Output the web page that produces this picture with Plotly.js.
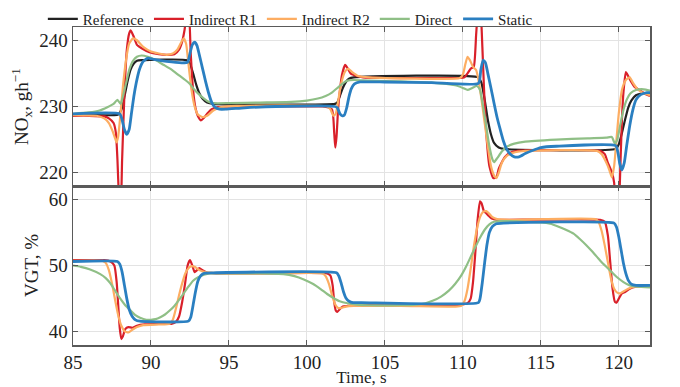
<!DOCTYPE html>
<html>
<head>
<meta charset="utf-8">
<script src="https://cdn.plot.ly/plotly-3.0.1.min.js"></script>
<style>html,body{margin:0;padding:0;background:#fff}#chart{width:680px;height:387px}</style>
</head>
<body>
<div id="chart"></div>
<script>
// ---------- NOx (top panel) ----------
const t_nox_ref = [85,87.9,88.1,88.3,88.5,88.7,88.9,89.1,89.4,92.3,92.5,92.7,92.9,93.1,93.3,93.6,94.0,101.8,101.95,102.1,102.3,102.5,102.7,103.0,111.0,111.2,111.4,111.6,111.8,112.0,112.3,112.6,119.8,120.0,120.2,120.4,120.6,120.8,121.1,121.5,122];
const nox_ref = [228.8,228.8,229.5,231.5,233.8,235.6,236.5,236.9,237.0,237.0,236.5,235.0,233.3,232.0,231.2,230.6,230.4,230.4,230.6,231.5,232.8,233.7,234.2,234.4,234.4,233.5,231.0,228.0,225.8,224.5,223.8,223.6,223.6,224.3,226.0,228.0,229.8,230.9,231.7,232.0,232.0];

const t_nox_r1 = [85,86.0,87.0,87.3,87.6,87.75,87.85,87.95,88.05,88.15,88.3,88.45,88.6,88.7,88.9,89.1,89.4,89.9,90.5,91.0,91.5,91.8,92.0,92.15,92.3,92.42,92.55,92.7,92.85,93.0,93.2,93.4,93.6,93.9,94.3,95,97,99,101.0,101.6,101.75,101.82,101.9,102.0,102.12,102.25,102.45,102.6,102.8,103.2,103.6,105,107,109.8,110.1,110.3,110.5,110.7,110.85,110.95,111.05,111.15,111.25,111.35,111.5,111.7,111.95,112.15,112.3,112.5,112.7,113.0,113.5,115,118.8,119.1,119.3,119.55,119.7,119.8,119.9,120.0,120.1,120.2,120.3,120.45,120.6,120.8,121.0,121.3,121.7,122];
const nox_r1 = [228.6,228.6,228.5,228.2,227.5,226,222,216,213,222,232,238.5,241,241.5,240.5,239.3,238.8,238.2,237.9,237.8,237.9,238.6,239.8,241.5,244,244.5,238,232.5,229.8,228.6,227.9,228.3,228.9,229.6,229.9,230.0,230.0,230.0,230.0,229.6,226,223.8,225.5,229.6,232.5,234.8,236.3,235.8,235.0,234.6,234.4,234.3,234.3,234.3,234.4,235.0,235.7,236.0,240.8,244,245,244,239,233,226,221,219.2,219.3,220.6,221.6,222.4,223.0,223.3,223.4,223.3,222.8,221.5,220.1,218.5,214,212,214,221,228,232.2,235.2,234.6,233.7,233.0,232.5,231.9,231.6];

const t_nox_r2 = [85,86.5,87.0,87.3,87.5,87.7,87.8,87.9,88.05,88.2,88.4,88.6,88.85,89.1,89.5,90.0,90.5,91.0,91.4,91.7,91.9,92.1,92.25,92.4,92.6,92.8,93.0,93.3,93.6,94.0,94.5,95.5,101.3,101.5,101.7,101.85,102.0,102.2,102.45,102.65,102.9,103.3,104,109.8,110.0,110.15,110.3,110.45,110.65,110.85,111.0,111.2,111.4,111.6,111.8,112.0,112.15,112.3,112.5,112.8,113.2,114,118.6,118.9,119.1,119.3,119.45,119.55,119.7,119.85,120.0,120.2,120.45,120.7,120.9,121.2,121.6,122];
const nox_r2 = [228.7,228.6,228.2,227.5,226.5,225.2,224.6,225.5,229,233,237,239.5,240.3,240.0,239.0,238.3,238.0,237.8,238.0,238.6,239.5,240.3,239.5,236.5,232.5,230.0,228.8,228.4,228.6,229.4,229.9,230.1,230.0,229.6,228.6,228.9,230.8,233.5,235.3,235.7,235.2,234.6,234.4,234.3,234.8,236.3,237.5,237.0,236.0,235.5,234,231,227.5,224,221,219.6,219.2,220.0,221.5,222.5,223.0,223.3,223.3,222.8,222.0,221.0,220,219.3,221,225,229,232.5,234.0,234.4,233.6,232.6,232.0,231.7];

const t_nox_dir = [85,86,86.7,87.2,87.6,87.85,88.05,88.2,88.4,88.6,88.85,89.1,89.4,89.8,90.3,90.8,91.3,91.8,92.2,92.5,92.8,93.1,93.4,93.7,94.0,95,97,99,100,100.7,101.2,101.6,102.0,102.3,102.6,103.0,104,106,108,109.5,110.0,110.3,110.6,110.9,111.1,111.3,111.5,111.7,111.9,112.0,112.2,112.5,112.8,113.3,114,116,118,119.2,119.55,119.75,119.9,120.1,120.3,120.5,120.75,121.1,121.6,122];
const nox_dir = [228.9,229.1,229.4,229.9,230.4,231.0,230.4,231.5,233.5,235.5,236.9,237.5,237.7,237.5,237.0,236.3,235.6,234.7,234.0,233.4,232.5,231.8,231.2,230.7,230.5,230.5,230.6,230.7,230.9,231.2,231.6,232.1,232.9,233.5,233.9,234.0,233.9,233.8,233.6,233.2,232.8,232.5,232.8,233.1,232.5,230,227,224,222,221.6,222.2,223.2,223.9,224.4,224.7,225.0,225.2,225.3,225.4,224.4,225.0,227.3,229.5,231.0,232.0,232.5,232.6,232.4];

const t_nox_sta = [85,88.0,88.15,88.3,88.45,88.6,88.75,88.9,89.05,89.25,89.5,89.8,90.2,91,92.0,92.35,92.5,92.65,92.8,92.95,93.1,93.3,93.5,93.7,93.9,94.1,94.4,94.8,96,98,101.8,101.95,102.1,102.25,102.4,102.55,102.7,102.85,103.05,103.4,105,108,111.0,111.15,111.3,111.45,111.6,111.8,112.0,112.2,112.4,112.6,112.8,113.0,113.3,113.6,114.0,114.5,115.0,116,119.8,119.95,120.05,120.2,120.35,120.5,120.7,120.9,121.1,121.4,121.8,122];
const nox_sta = [228.9,228.9,228.0,226.5,225.8,226.5,229,231.5,233.5,235.5,236.8,237.3,237.1,236.8,236.6,236.7,238.0,239.3,239.7,239.2,237.8,235.8,233.8,232.0,230.6,229.9,229.6,229.6,229.8,230.0,230.0,229.8,229.0,228.6,228.7,229.8,231.5,232.7,233.4,233.7,233.7,233.6,233.5,235.5,237.0,236.6,235.0,232.8,230.5,228.3,226.5,224.8,223.6,222.9,222.4,222.4,222.9,223.4,223.8,224.0,224.1,223,221.5,220.4,221.5,224,227.1,229.5,231.0,231.8,232.1,232.1];

// ---------- VGT (bottom panel) ----------
const t_vgt_r1 = [85,87.0,87.4,87.65,87.8,87.9,88.0,88.1,88.2,88.35,88.55,88.8,89.1,89.6,90.5,91.3,91.6,91.8,92.0,92.2,92.35,92.5,92.65,92.8,92.95,93.1,93.3,93.6,94.2,97,101.3,101.5,101.65,101.75,101.85,101.95,102.1,102.3,102.6,103,106,109.8,110.3,110.5,110.65,110.8,110.95,111.1,111.2,111.35,111.5,111.65,111.85,112.2,113,118.8,119.1,119.3,119.45,119.6,119.75,119.85,120.0,120.2,120.4,120.7,121.1,121.6,122];
const vgt_r1 = [50.8,50.8,50.6,50.0,47.5,44,40.5,38.9,39.3,40.4,40.7,40.6,40.9,41.1,41.2,41.2,41.5,42.3,44.5,47.5,50.0,50.8,50.0,49.0,49.3,49.6,49.3,48.9,48.8,48.8,48.8,48.5,47,44.5,43.2,43.0,43.4,43.8,43.9,44.0,44.0,44.1,44.3,45.0,47.5,52,57,59.7,59.4,58.2,57.9,57.5,57.1,56.9,56.9,56.9,56.6,54.5,50.5,46.5,44.5,44.4,45.0,45.8,46.0,46.5,46.8,46.9,46.9];

const t_vgt_r2 = [85,86.9,87.1,87.3,87.5,87.7,87.9,88.1,88.3,88.55,88.8,89.1,89.5,90.5,91.2,91.4,91.6,91.8,92.0,92.2,92.4,92.6,92.8,93.1,93.5,94,97,101.0,101.2,101.4,101.6,101.8,102.0,102.2,102.5,103,106,109.5,109.9,110.1,110.3,110.5,110.7,110.9,111.1,111.3,111.5,111.7,111.9,112.2,113,118.5,118.7,118.9,119.1,119.3,119.5,119.7,119.9,120.1,120.3,120.6,121.0,121.5,122];
const vgt_r2 = [50.7,50.7,50.4,49.3,47.3,44.8,42.5,40.9,40.1,39.9,40.3,40.7,41.0,41.1,41.2,41.8,43.5,45.5,47.3,48.8,49.6,49.9,49.8,49.3,49.0,48.9,48.8,48.8,48.4,47.3,45.6,44.2,43.6,43.6,43.8,43.9,43.9,43.8,43.9,44.6,46.5,49.5,52.8,55.5,57.3,58.1,58.2,57.8,57.3,57.0,56.9,57.0,56.6,55.2,53.0,50.5,48.0,46.5,45.9,45.8,46.1,46.5,46.8,46.9,46.9];

const t_vgt_dir = [85,85.5,86.1,86.75,87.1,87.4,87.7,88.0,88.35,88.7,89.0,89.3,89.7,90.0,90.3,90.6,90.9,91.2,91.5,91.8,92.1,92.4,92.7,93.0,93.4,93.8,95,97,98.5,99.2,99.8,100.4,100.9,101.3,101.7,102.1,102.6,103.2,104,106,107,107.6,108.1,108.6,109.1,109.5,109.9,110.2,110.5,110.8,111.1,111.4,111.7,112.0,112.4,113,114,115,115.6,116.1,116.6,117.1,117.5,117.9,118.3,118.6,118.9,119.2,119.55,119.85,120.3,120.7,121.2,122];
const vgt_dir = [50.0,49.8,49.4,48.7,48.1,47.3,46.2,45.1,44.0,43.2,42.5,42.1,41.8,41.8,41.9,42.2,42.6,43.2,43.9,44.8,45.8,46.8,47.7,48.2,48.6,48.8,48.8,48.8,48.7,48.4,47.9,47.2,46.4,45.7,45.1,44.6,44.3,44.1,44.0,44.0,44.1,44.3,44.7,45.3,46.2,47.2,48.5,49.8,51.3,52.8,54.2,55.4,56.2,56.6,56.7,56.7,56.6,56.5,56.3,55.9,55.4,54.8,54.0,53.1,52.1,51.3,50.5,49.8,49.0,48.3,47.5,47.0,46.8,46.7];

const t_vgt_sta = [85,87.85,88.0,88.15,88.3,88.45,88.6,88.8,89.0,89.3,92.4,92.55,92.7,92.85,93.0,93.2,93.45,94,101.9,102.05,102.2,102.35,102.5,102.7,102.95,103.5,111.0,111.1,111.25,111.4,111.55,111.7,111.9,112.15,112.6,119.7,119.85,120.0,120.15,120.3,120.45,120.6,120.8,121.1,122];
const vgt_sta = [50.6,50.6,50.2,49.0,47.0,45.0,43.4,42.3,41.8,41.6,41.6,42.2,44.0,46.0,47.6,48.5,48.85,48.9,48.9,48.4,47.3,46.0,45.1,44.6,44.4,44.4,44.4,45.0,47.5,50.5,53.2,55.0,55.9,56.3,56.4,56.4,55.8,54.3,52.3,50.3,48.8,47.8,47.2,47.0,47.0];

const names = ['Reference','Indirect R1','Indirect R2','Direct','Static'];
const colors = ['#222222','#d9202a','#fdad62','#8fbf86','#2a7fc1'];
const widths = [2.2,2.2,2.2,2.2,2.8];

const topT = [t_nox_ref,t_nox_r1,t_nox_r2,t_nox_dir,t_nox_sta];
const topY = [nox_ref,nox_r1,nox_r2,nox_dir,nox_sta];
const botT = [null,t_vgt_r1,t_vgt_r2,t_vgt_dir,t_vgt_sta];
const botY = [null,vgt_r1,vgt_r2,vgt_dir,vgt_sta];

const traces = [];
for (let i = 0; i < 5; i++) {
  traces.push({x: topT[i], y: topY[i], type:'scatter', mode:'lines', name:names[i],
    line:{color:colors[i], width:widths[i], shape:'spline', smoothing:0.5},
    xaxis:'x', yaxis:'y', legendgroup:names[i]});
}
for (let i = 1; i < 5; i++) {
  traces.push({x: botT[i], y: botY[i], type:'scatter', mode:'lines', name:names[i],
    line:{color:colors[i], width:widths[i], shape:'spline', smoothing:0.5},
    xaxis:'x2', yaxis:'y2', legendgroup:names[i], showlegend:false});
}

const F = '"Liberation Serif"';
const axCommon = {showline:true, linecolor:'#5a5a5a', linewidth:1.5, mirror:'ticks',
  ticks:'inside', ticklen:5, tickcolor:'#5a5a5a', tickwidth:1,
  showgrid:true, gridcolor:'#e3e3e3', gridwidth:1, zeroline:false,
  tickfont:{family:F, size:19, color:'#222'}};

const layout = {
  width:680, height:387,
  margin:{l:73, r:30, t:27, b:42, autoexpand:false},
  paper_bgcolor:'#fff', plot_bgcolor:'#fff',
  font:{family:F, color:'#222'},
  showlegend:true,
  legend:{orientation:'h', xref:'container', yref:'container', x:0.063, xanchor:'left', y:0.993, yanchor:'top',
    font:{family:F, size:15, color:'#222'}, bgcolor:'rgba(0,0,0,0)',
    tracegroupgap:0, itemwidth:30},
  xaxis: Object.assign({}, axCommon, {range:[85,122], dtick:5, tick0:85, showticklabels:false, anchor:'y', domain:[0,1]}),
  yaxis: Object.assign({}, axCommon, {range:[218,242], tickvals:[220,230,240], domain:[0.5,1], anchor:'x',
    title:{text:'NO<sub>x</sub>, gh<sup>−1</sup>', font:{family:F, size:19, color:'#222'}, standoff:5}}),
  xaxis2: Object.assign({}, axCommon, {range:[85,122], dtick:5, tick0:85, anchor:'y2', domain:[0,1],
    title:{text:'Time, s', font:{family:F, size:17, color:'#222'}, standoff:4}}),
  yaxis2: Object.assign({}, axCommon, {range:[38,62], tickvals:[40,50,60], domain:[0,0.5], anchor:'x2',
    title:{text:'VGT, %', font:{family:F, size:19, color:'#222'}, standoff:5}})
};

Plotly.newPlot('chart', traces, layout, {displayModeBar:false, staticPlot:true});
</script>
</body>
</html>
